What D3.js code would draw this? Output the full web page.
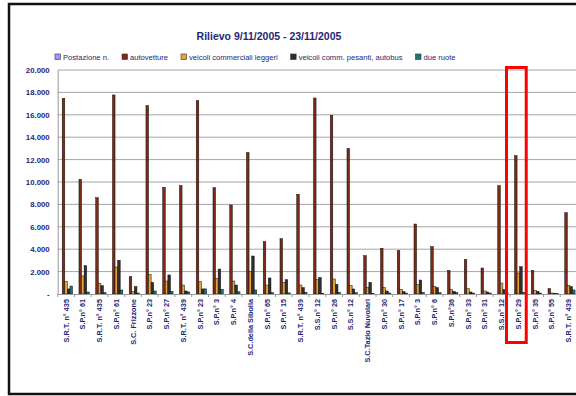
<!DOCTYPE html>
<html>
<meta charset="utf-8">
<title>Rilievo 9/11/2005 - 23/11/2005</title>
<style>
html, body { margin: 0; padding: 0; background: #fff; }
svg { display: block; font-family: "Liberation Sans", Arial, sans-serif; }
.grid line { stroke: #a6a6a6; stroke-width: 1; }
.axis text { fill: #1f2675; font-weight: bold; }
.legend text { fill: #1f2675; font-size: 7.6px; }
</style>
<body>
<svg></svg>
<script src="https://d3js.org/d3.v7.min.js"></script>
<script>

var categories = ["S.R.T. n° 435", "S.P.n° 61", "S.R.T. n° 435", "S.P.n° 61", "S.C. Frizzone",
  "S.P.n° 23", "S.P.n° 27", "S.R.T. n° 439", "S.P.n° 23", "S.P.n° 3", "S.P.n° 4",
  "S.C.della Sibolla", "S.P.n° 65", "S.P.n° 15", "S.R.T. n° 439", "S.S.n° 12", "S.P.n° 26",
  "S.S.n° 12", "S.C.Tazio Nuvolari", "S.P.n° 30", "S.P.n° 17", "S.P.n° 3", "S.P.n° 6",
  "S.P.n°36", "S.P.n° 33", "S.P.n° 31", "S.S.n° 12", "S.P.n° 29", "S.P.n° 35", "S.P.n° 55",
  "S.R.T. n° 439"];

var seriesNames = ["Postazione n.", "autovetture", "veicoli commerciali leggeri",
  "veicoli comm. pesanti, autobus", "due ruote"];
var seriesColors = ["#9999ff", "#7a2a16", "#e8a232", "#2e2e2e", "#1f7770"];

var postazione = [0,0,0,0,0,0,0,0,0,0,0,0,0,0,0,0,0,0,0,0,0,0,0,0,0,0,0,0,0,0,0];
var autovetture = [17470,10240,8600,17770,1550,16820,9520,9670,17260,9490,7950,12620,4670,4940,
  8900,17500,15950,13000,3420,4080,3870,6250,4230,2110,3070,2320,9670,12350,2110,480,7260];
var commerciali = [1100,1610,920,2410,210,1730,1160,800,1100,1400,1160,2000,800,1010,
  800,1280,1340,770,570,570,420,860,680,390,480,270,980,1880,300,90,770];
var pesanti = [450,2530,740,3010,660,1040,1700,270,450,2230,800,3390,1430,1280,
  570,1460,860,450,1040,270,210,1250,570,240,180,180,390,2440,240,60,660];
var dueRuote = [710,180,120,360,90,270,240,180,460,420,200,360,120,100,
  150,60,150,120,60,90,90,150,120,120,90,90,120,150,90,30,360];

var yTicks = [0,2000,4000,6000,8000,10000,12000,14000,16000,18000,20000];
var highlighted = 27; // S.P.n° 29

var series = [postazione, autovetture, commerciali, pesanti, dueRuote];

var svg = d3.select("svg").attr("width", 576).attr("height", 396);

// outer frame
svg.append("rect")
  .attr("x", 9).attr("y", 4)
  .attr("width", 600).attr("height", 390)
  .attr("fill", "none").attr("stroke", "#111").attr("stroke-width", 2.5);

var plotLeft = 57.7, plotRight = 577, plotTop = 70, plotBottom = 294;

var x0 = d3.scaleBand().domain(d3.range(categories.length)).range([plotLeft, plotRight]);
var x1 = d3.scaleBand().domain(d3.range(series.length))
  .range([0, x0.bandwidth()]).paddingOuter(0.75).paddingInner(0);
var y = d3.scaleLinear().domain([0, 20000]).range([plotBottom, plotTop]);

// title
svg.append("text")
  .attr("x", 269).attr("y", 40)
  .attr("text-anchor", "middle")
  .attr("fill", "#1f2675")
  .style("font-size", "10.5px").style("font-weight", "bold")
  .text("Rilievo 9/11/2005 - 23/11/2005");

// legend
var legend = svg.append("g").attr("class", "legend");
var lx = 55;
seriesNames.forEach(function(name, i) {
  legend.append("rect")
    .attr("x", lx).attr("y", 54).attr("width", 5.5).attr("height", 5.5)
    .attr("fill", seriesColors[i]).attr("stroke", "#333").attr("stroke-width", 0.6);
  var t = legend.append("text").attr("x", lx + 8).attr("y", 60).text(name);
  lx += 8 + t.node().getComputedTextLength() + 13;
});

// gridlines
svg.append("g").attr("class", "grid")
  .selectAll("line").data(yTicks.slice(1)).enter().append("line")
  .attr("x1", plotLeft).attr("x2", 576)
  .attr("y1", function(d) { return y(d); })
  .attr("y2", function(d) { return y(d); });

// bars
var groups = svg.append("g").selectAll("g")
  .data(categories).enter().append("g")
  .attr("transform", function(d, i) { return "translate(" + x0(i) + ",0)"; });

groups.selectAll("rect")
  .data(function(d, i) { return series.map(function(s, k) { return {k: k, v: s[i]}; }); })
  .enter().append("rect")
  .attr("x", function(d) { return x1(d.k); })
  .attr("y", function(d) { return y(d.v); })
  .attr("width", x1.bandwidth())
  .attr("height", function(d) { return plotBottom - y(d.v); })
  .attr("fill", function(d) { return seriesColors[d.k]; })
  .attr("stroke", function(d) { return d.v > 0 ? "#111" : "none"; })
  .attr("stroke-width", 0.5);

// y axis
var yAxis = svg.append("g").attr("class", "axis")
  .attr("transform", "translate(" + plotLeft + ",0)")
  .call(d3.axisLeft(y).tickValues(yTicks).tickSize(0).tickPadding(8)
    .tickFormat(function(d) { return d === 0 ? "-" : d3.format(",")(d).replace(/,/g, "."); }));
yAxis.select(".domain").attr("stroke", "#999");
yAxis.selectAll("text").style("font-size", "7.8px");

// x axis
var xAxis = svg.append("g").attr("class", "axis")
  .attr("transform", "translate(0," + plotBottom + ")")
  .call(d3.axisBottom(x0).tickSize(0).tickFormat(function(i) { return categories[i]; }));
xAxis.select(".domain").attr("stroke", "#999");
xAxis.selectAll("text")
  .style("font-size", "7.3px")
  .attr("transform", "rotate(-90)")
  .attr("text-anchor", "end")
  .attr("x", -5).attr("y", 0).attr("dy", "0.35em");

// tick marks at group boundaries
svg.append("g").selectAll("line")
  .data(d3.range(categories.length + 1)).enter().append("line")
  .attr("x1", function(i) { return plotLeft + i * x0.step(); })
  .attr("x2", function(i) { return plotLeft + i * x0.step(); })
  .attr("y1", plotBottom).attr("y2", plotBottom + 3)
  .attr("stroke", "#999");

// highlight box
svg.append("rect")
  .attr("x", x0(highlighted) - 3.5).attr("y", 67.5)
  .attr("width", x0.bandwidth() + 3).attr("height", 275)
  .attr("fill", "none").attr("stroke", "#ff0000").attr("stroke-width", 3);

</script>
</body>
</html>
